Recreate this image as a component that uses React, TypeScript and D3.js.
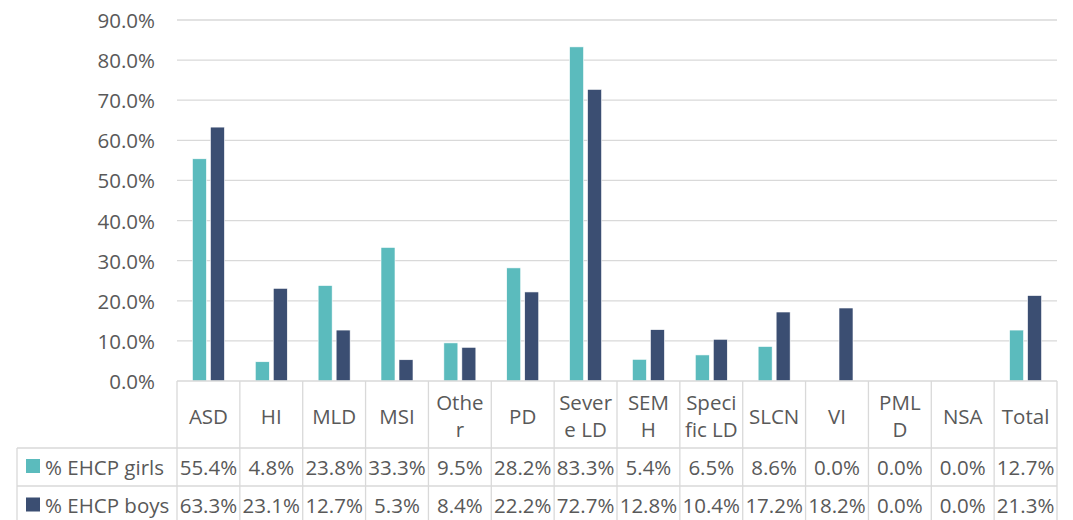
import React from "react";
import * as d3 from "d3";

const categories = ["ASD", "HI", "MLD", "MSI", "Other", "PD", "Severe LD", "SEMH", "Specific LD", "SLCN", "VI", "PMLD", "NSA", "Total"];
const headerLines = [["ASD"], ["HI"], ["MLD"], ["MSI"], ["Othe", "r"], ["PD"], ["Sever", "e LD"], ["SEM", "H"], ["Speci", "fic LD"], ["SLCN"], ["VI"], ["PML", "D"], ["NSA"], ["Total"]];
const girls = [55.4, 4.8, 23.8, 33.3, 9.5, 28.2, 83.3, 5.4, 6.5, 8.6, 0.0, 0.0, 0.0, 12.7];
const boys = [63.3, 23.1, 12.7, 5.3, 8.4, 22.2, 72.7, 12.8, 10.4, 17.2, 18.2, 0.0, 0.0, 21.3];
const seriesNames = ["% EHCP girls", "% EHCP boys"];
const seriesColors = ["#5BBBBD", "#3B4E72"];
const yTicks = [0, 10, 20, 30, 40, 50, 60, 70, 80, 90];

const W = 1073, H = 520;
const left = 177, right = 1057, top = 20, bottom = 381;
const legendLeft = 17;
const headerBottom = 448, row1Bottom = 486, row2Bottom = 525;
const textColor = "#595959";
const gridColor = "#D9D9D9";
const font = "'Open Sans', sans-serif";
const fs = 20.5;

export default function App() {
  const x = d3.scaleBand<string>().domain(categories).range([left, right]).paddingInner(0).paddingOuter(0);
  const y = d3.scaleLinear().domain([0, 90]).range([bottom, top]);
  const bw = x.bandwidth();
  const series = [girls, boys];
  const rowsY = [[headerBottom, row1Bottom], [row1Bottom, row2Bottom]];
  return (
    <svg width={W} height={H} style={{ position: "absolute", left: 0, top: 0 }} fontFamily={font}>
      <rect x={0} y={0} width={W} height={H} fill="#fff" />
      {yTicks.map((t) => (
        <g key={t}>
          {t > 0 && <line x1={left} x2={right} y1={y(t)} y2={y(t)} stroke={gridColor} strokeWidth={1.3} />}
          <text x={155} y={y(t)} textAnchor="end" dominantBaseline="central" fontSize={fs} fill={textColor}>
            {t.toFixed(1)}%
          </text>
        </g>
      ))}
      {categories.map((c, i) => {
        const cx = (x(c) as number) + bw / 2;
        const x1 = d3.scaleBand<number>().domain([0, 1]).range([cx - 16, cx + 16]).paddingInner(4 / 18);
        return (
          <g key={c}>
            {series.map((s, k) => (
              <rect
                key={k}
                x={x1(k)}
                y={y(s[i])}
                width={x1.bandwidth()}
                height={bottom - y(s[i])}
                fill={seriesColors[k]}
                stroke="#fff"
                strokeWidth={0.6}
              />
            ))}
          </g>
        );
      })}
      {/* table lines */}
      <line x1={left} x2={right} y1={bottom} y2={bottom} stroke={gridColor} strokeWidth={1.3} />
      <line x1={legendLeft} x2={right} y1={headerBottom} y2={headerBottom} stroke={gridColor} strokeWidth={1.3} />
      <line x1={legendLeft} x2={right} y1={row1Bottom} y2={row1Bottom} stroke={gridColor} strokeWidth={1.3} />
      <line x1={legendLeft} x2={legendLeft} y1={headerBottom} y2={row2Bottom} stroke={gridColor} strokeWidth={1.3} />
      {categories.map((c) => (
        <line key={c} x1={x(c)} x2={x(c)} y1={bottom} y2={row2Bottom} stroke={gridColor} strokeWidth={1.3} />
      ))}
      <line x1={right} x2={right} y1={bottom} y2={row2Bottom} stroke={gridColor} strokeWidth={1.3} />
      {categories.map((c, i) => {
        const cx = (x(c) as number) + bw / 2;
        const lines = headerLines[i];
        const mid = (bottom + headerBottom) / 2 + 1;
        return (
          <text key={c} textAnchor="middle" fontSize={fs} fill={textColor}>
            {lines.map((l, j) => (
              <tspan key={j} x={cx} y={mid + (j - (lines.length - 1) / 2) * 27} dominantBaseline="central">
                {l}
              </tspan>
            ))}
          </text>
        );
      })}
      {series.map((s, k) => {
        const [y0, y1] = rowsY[k];
        const cy = k === 0 ? 466.5 : 505;
        return (
          <g key={k}>
            <rect x={26} y={cy - 7.5} width={14} height={14} fill={seriesColors[k]} />
            <text x={45} y={cy} dominantBaseline="central" fontSize={fs} fill={textColor}>
              {seriesNames[k]}
            </text>
            {categories.map((c, i) => (
              <text
                key={c}
                x={(x(c) as number) + bw / 2}
                y={cy}
                textAnchor="middle"
                dominantBaseline="central"
                fontSize={fs}
                fill={textColor}
              >
                {s[i].toFixed(1)}%
              </text>
            ))}
          </g>
        );
      })}
    </svg>
  );
}
